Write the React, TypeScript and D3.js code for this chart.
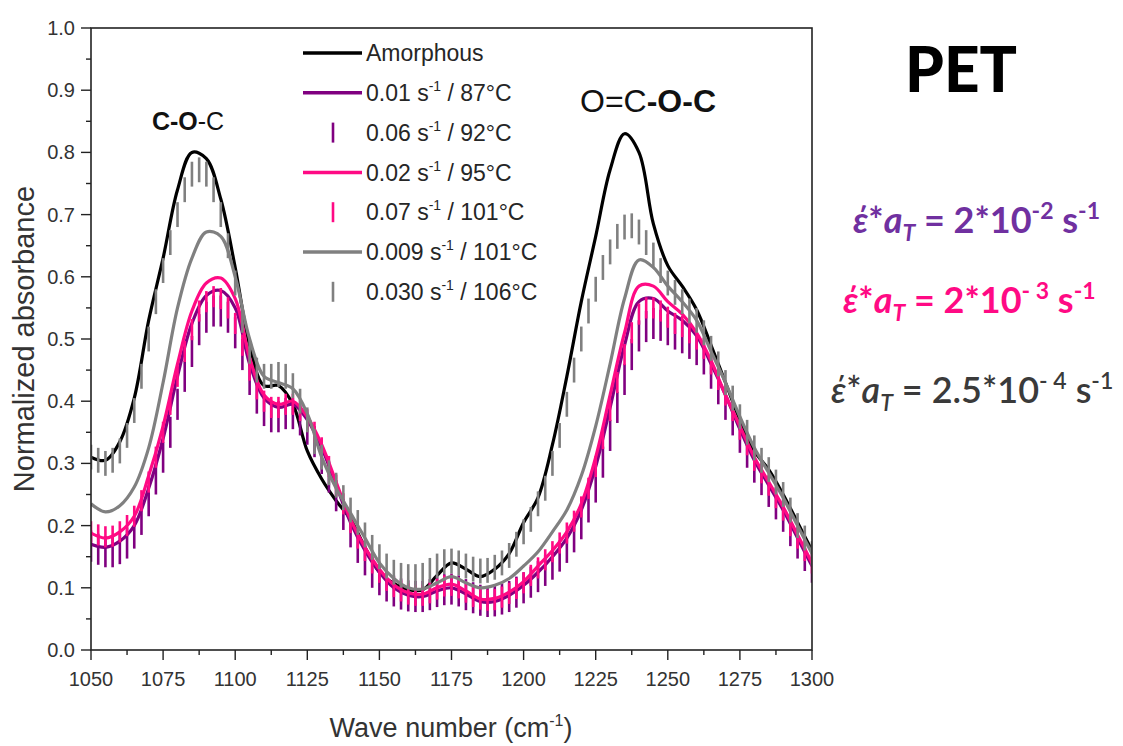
import React from "react";
import * as d3 from "d3";

// ---- data ----
const lineWaveStart = 1050;
const lineWaveStep = 5;
const barWaveStep = 2.5;

const amorphous = [0.31,0.305,0.335,0.405,0.53,0.63,0.74,0.80,0.79,0.725,
0.615,0.49,0.425,0.425,0.395,0.32,0.275,0.24,0.21,0.165,
0.125,0.107,0.097,0.097,0.12,0.14,0.13,0.118,0.13,0.155,
0.205,0.245,0.33,0.44,0.56,0.665,0.772,0.83,0.80,0.685,
0.618,0.585,0.547,0.49,0.43,0.37,0.32,0.29,0.25,0.205,
0.16];

const purple001 = [0.17,0.165,0.175,0.2,0.26,0.34,0.44,0.525,0.57,0.578,
0.55,0.46,0.405,0.39,0.395,0.37,0.325,0.265,0.205,0.16,
0.125,0.1,0.088,0.086,0.095,0.1,0.09,0.078,0.078,0.088,
0.104,0.125,0.15,0.18,0.225,0.295,0.39,0.49,0.56,0.565,
0.545,0.53,0.505,0.46,0.41,0.355,0.305,0.265,0.225,0.18,
0.135];

const pink002 = [0.188,0.18,0.19,0.215,0.28,0.36,0.46,0.545,0.59,0.598,
0.565,0.47,0.41,0.395,0.40,0.375,0.33,0.27,0.21,0.165,
0.13,0.105,0.092,0.09,0.1,0.106,0.095,0.082,0.083,0.093,
0.11,0.135,0.16,0.19,0.235,0.31,0.41,0.51,0.585,0.585,
0.56,0.54,0.51,0.465,0.41,0.36,0.31,0.27,0.23,0.185,
0.14];

const gray0009 = [0.235,0.222,0.232,0.262,0.325,0.43,0.55,0.63,0.672,0.665,
0.60,0.50,0.44,0.43,0.42,0.38,0.31,0.26,0.22,0.18,
0.14,0.115,0.10,0.098,0.108,0.118,0.108,0.1,0.104,0.115,
0.135,0.158,0.19,0.225,0.28,0.36,0.46,0.565,0.627,0.615,
0.585,0.56,0.53,0.48,0.43,0.375,0.325,0.285,0.245,0.2,
0.155];

const purpleBars006 = [0.167,0.162,0.158,0.158,0.163,0.172,0.188,0.21,0.24,0.275,
0.31,0.35,0.395,0.44,0.48,0.515,0.535,0.545,0.545,0.535,
0.51,0.475,0.435,0.405,0.385,0.375,0.375,0.38,0.38,0.37,
0.355,0.335,0.308,0.278,0.248,0.218,0.19,0.165,0.145,0.125,
0.113,0.103,0.095,0.09,0.087,0.086,0.086,0.089,0.094,0.097,
0.098,0.095,0.089,0.084,0.08,0.078,0.079,0.082,0.086,0.093,
0.1,0.109,0.118,0.128,0.138,0.151,0.165,0.182,0.203,0.23,
0.262,0.302,0.345,0.39,0.435,0.475,0.505,0.52,0.525,0.522,
0.515,0.508,0.502,0.493,0.483,0.468,0.445,0.42,0.395,0.37,
0.342,0.318,0.294,0.274,0.255,0.235,0.215,0.192,0.172,0.152,
0.133];
const purpleBarsErr = 0.025;

const pinkBars007 = [0.19,0.185,0.182,0.183,0.19,0.2,0.215,0.24,0.27,0.31,
0.35,0.395,0.44,0.48,0.515,0.545,0.56,0.568,0.565,0.55,
0.525,0.49,0.45,0.42,0.40,0.39,0.39,0.395,0.395,0.385,
0.37,0.35,0.325,0.295,0.265,0.235,0.205,0.18,0.16,0.14,
0.125,0.112,0.102,0.095,0.09,0.088,0.088,0.092,0.098,0.103,
0.104,0.1,0.093,0.086,0.082,0.08,0.081,0.085,0.091,0.099,
0.108,0.12,0.132,0.145,0.158,0.172,0.188,0.207,0.23,0.26,
0.295,0.34,0.385,0.43,0.475,0.51,0.54,0.55,0.55,0.545,
0.535,0.525,0.52,0.51,0.5,0.485,0.46,0.435,0.41,0.385,
0.355,0.33,0.305,0.285,0.265,0.245,0.225,0.2,0.18,0.16,
0.14];
const pinkBarsErr = 0.017;

const grayBars0030 = [0.31,0.305,0.30,0.305,0.32,0.345,0.385,0.44,0.50,0.56,
0.61,0.655,0.70,0.74,0.765,0.772,0.765,0.74,0.70,0.65,
0.59,0.53,0.48,0.45,0.44,0.44,0.443,0.44,0.425,0.40,
0.37,0.335,0.31,0.285,0.265,0.245,0.225,0.205,0.185,0.165,
0.15,0.135,0.125,0.12,0.118,0.118,0.12,0.128,0.135,0.142,
0.143,0.14,0.135,0.13,0.127,0.128,0.133,0.14,0.152,0.17,
0.19,0.21,0.235,0.26,0.30,0.345,0.395,0.45,0.50,0.545,
0.58,0.615,0.64,0.665,0.68,0.682,0.672,0.655,0.635,0.61,
0.59,0.575,0.56,0.545,0.53,0.51,0.485,0.46,0.43,0.405,
0.375,0.35,0.325,0.305,0.29,0.27,0.25,0.225,0.20,0.18,
0.155];
const grayBarsErr = 0.02;

const xTicks = [1050,1075,1100,1125,1150,1175,1200,1225,1250,1275,1300];
const yTicks = [0,0.1,0.2,0.3,0.4,0.5,0.6,0.7,0.8,0.9,1.0];

const PURPLE = "#800080";
const PINK = "#FF0A84";
const GRAY = "#808080";

type Item = { kind: "line" | "bar"; color: string; label: string; sup: string; rest: string };
const legendItems: Item[] = [
  { kind: "line", color: "#000000", label: "Amorphous", sup: "", rest: "" },
  { kind: "line", color: PURPLE, label: "0.01 s", sup: "-1", rest: " / 87°C" },
  { kind: "bar", color: PURPLE, label: "0.06 s", sup: "-1", rest: " / 92°C" },
  { kind: "line", color: PINK, label: "0.02 s", sup: "-1", rest: " / 95°C" },
  { kind: "bar", color: PINK, label: "0.07 s", sup: "-1", rest: " / 101°C" },
  { kind: "line", color: GRAY, label: "0.009 s", sup: "-1", rest: " / 101°C" },
  { kind: "bar", color: GRAY, label: "0.030 s", sup: "-1", rest: " / 106°C" },
];

const AX_FONT = "'Liberation Sans', Arial, sans-serif";
const CAL_FONT = "Lato, 'Noto Sans', 'DejaVu Sans', sans-serif";

export default function App() {
  const left = 91, right = 812, top = 28, bottom = 650;
  const x = d3.scaleLinear().domain([1050, 1300]).range([left, right]);
  const y = d3.scaleLinear().domain([0, 1]).range([bottom, top]);

  const lineX = (i: number) => x(lineWaveStart + i * lineWaveStep);
  const barX = (i: number) => x(lineWaveStart + i * barWaveStep);

  const lineGen = d3
    .line<number>()
    .x((_, i) => lineX(i))
    .y((d) => y(d))
    .curve(d3.curveCatmullRom.alpha(0.5));

  const bars = (vals: number[], err: number, color: string, key: string) => (
    <g key={key} stroke={color} strokeWidth={2.6}>
      {vals.map((v, i) => (
        <line key={i} x1={barX(i)} x2={barX(i)} y1={y(v - err)} y2={y(v + err)} />
      ))}
    </g>
  );

  const minorX = d3.range(1062.5, 1300, 25);
  const minorY = d3.range(0.05, 1, 0.1);

  const formula = (xPos: number, yPos: number, color: string, weight: number | string, mant: string, exp: string) => (
    <text x={xPos} y={yPos} fontFamily={CAL_FONT} fontWeight={weight} fontSize={36} fill={color}>
      <tspan fontStyle="italic">έ</tspan>*<tspan fontStyle="italic">a</tspan>
      <tspan fontStyle="italic" fontSize={23} dy={8}>T</tspan>
      <tspan dy={-8}>{" = " + mant}</tspan>
      <tspan fontSize={23} dy={-14}>{exp}</tspan>
      <tspan dy={14}> s</tspan>
      <tspan fontSize={23} dy={-14}>-1</tspan>
    </text>
  );

  return (
    <div style={{ position: "absolute", left: 0, top: 0 }}>
      <svg width={1123} height={746} style={{ display: "block", background: "#fff" }}>
        <defs>
          <clipPath id="plotclip">
            <rect x={left} y={top - 5} width={right - left} height={bottom - top + 5} />
          </clipPath>
        </defs>

        {/* data */}
        <g clipPath="url(#plotclip)" fill="none" strokeLinejoin="round" strokeLinecap="butt">
          <path d={lineGen(amorphous) || ""} stroke="#000" strokeWidth={3.2} />
          <path d={lineGen(purple001) || ""} stroke={PURPLE} strokeWidth={3.2} />
          {bars(purpleBars006, purpleBarsErr, PURPLE, "pb")}
          <path d={lineGen(pink002) || ""} stroke={PINK} strokeWidth={3.2} />
          {bars(pinkBars007, pinkBarsErr, PINK, "kb")}
          <path d={lineGen(gray0009) || ""} stroke={GRAY} strokeWidth={3.2} />
          {bars(grayBars0030, grayBarsErr, GRAY, "gb")}
        </g>

        {/* frame */}
        <rect x={left} y={top} width={right - left} height={bottom - top} fill="none" stroke="#222" strokeWidth={1.6} />

        {/* ticks */}
        <g stroke="#222" strokeWidth={1.4}>
          {yTicks.map((t) => (
            <line key={"ym" + t} x1={left - 10} x2={left} y1={y(t)} y2={y(t)} />
          ))}
          {minorY.map((t) => (
            <line key={"yn" + t} x1={left - 5} x2={left} y1={y(t)} y2={y(t)} />
          ))}
          {xTicks.map((t) => (
            <line key={"xm" + t} x1={x(t)} x2={x(t)} y1={bottom} y2={bottom + 10} />
          ))}
          {minorX.map((t) => (
            <line key={"xn" + t} x1={x(t)} x2={x(t)} y1={bottom} y2={bottom + 5} />
          ))}
        </g>
        <g fontFamily={AX_FONT} fontSize={20} fill="#333">
          {yTicks.map((t) => (
            <text key={"yl" + t} x={left - 16} y={y(t)} dy="0.35em" textAnchor="end">
              {t.toFixed(1)}
            </text>
          ))}
          {xTicks.map((t) => (
            <text key={"xl" + t} x={x(t)} y={bottom + 36} textAnchor="middle">
              {t}
            </text>
          ))}
        </g>

        {/* axis titles */}
        <text
          transform={`translate(34,${(top + bottom) / 2}) rotate(-90)`}
          textAnchor="middle"
          fontFamily={AX_FONT}
          fontSize={29}
          fill="#333"
        >
          Normalized absorbance
        </text>
        <text x={451} y={737} textAnchor="middle" fontFamily={AX_FONT} fontSize={27} fill="#333">
          Wave number (cm<tspan fontSize={16} dy={-11}>-1</tspan>
          <tspan dy={11}>)</tspan>
        </text>

        {/* legend */}
        <g fontFamily={AX_FONT} fontSize={23} fill="#262626">
          {legendItems.map((it, i) => {
            const ly = 53 + i * 39.8;
            return (
              <g key={"lg" + i}>
                {it.kind === "line" ? (
                  <line x1={303} x2={362} y1={ly} y2={ly} stroke={it.color} strokeWidth={3.5} />
                ) : (
                  <line x1={333} x2={333} y1={ly - 10} y2={ly + 10} stroke={it.color} strokeWidth={2.6} />
                )}
                <text x={366} y={ly} dy="0.36em">
                  {it.label}
                  {it.sup ? (
                    <>
                      <tspan fontSize={14} dy={-10}>{it.sup}</tspan>
                      <tspan dy={10}>{it.rest}</tspan>
                    </>
                  ) : null}
                </text>
              </g>
            );
          })}
        </g>

        {/* peak annotations */}
        <text x={188} y={130} textAnchor="middle" fontFamily={AX_FONT} fontSize={25} fill="#111">
          <tspan fontWeight="bold">C-O</tspan>-C
        </text>
        <text x={648} y={112} textAnchor="middle" fontFamily={AX_FONT} fontSize={32} fill="#111">
          O=C<tspan fontWeight="bold">-O-C</tspan>
        </text>

        {/* right panel */}
        <text x={961} y={92} textAnchor="middle" fontFamily={CAL_FONT} fontWeight={900} fontSize={62} fill="#000">
          PET
        </text>
        {formula(853, 233, "#7030A0", "bold", "2*10", "-2")}
        {formula(843, 313, "#FF0A84", "bold", "2*10", "- 3")}
        {formula(831, 403, "#3a3a3a", 600, "2.5*10", "- 4")}
      </svg>
    </div>
  );
}
